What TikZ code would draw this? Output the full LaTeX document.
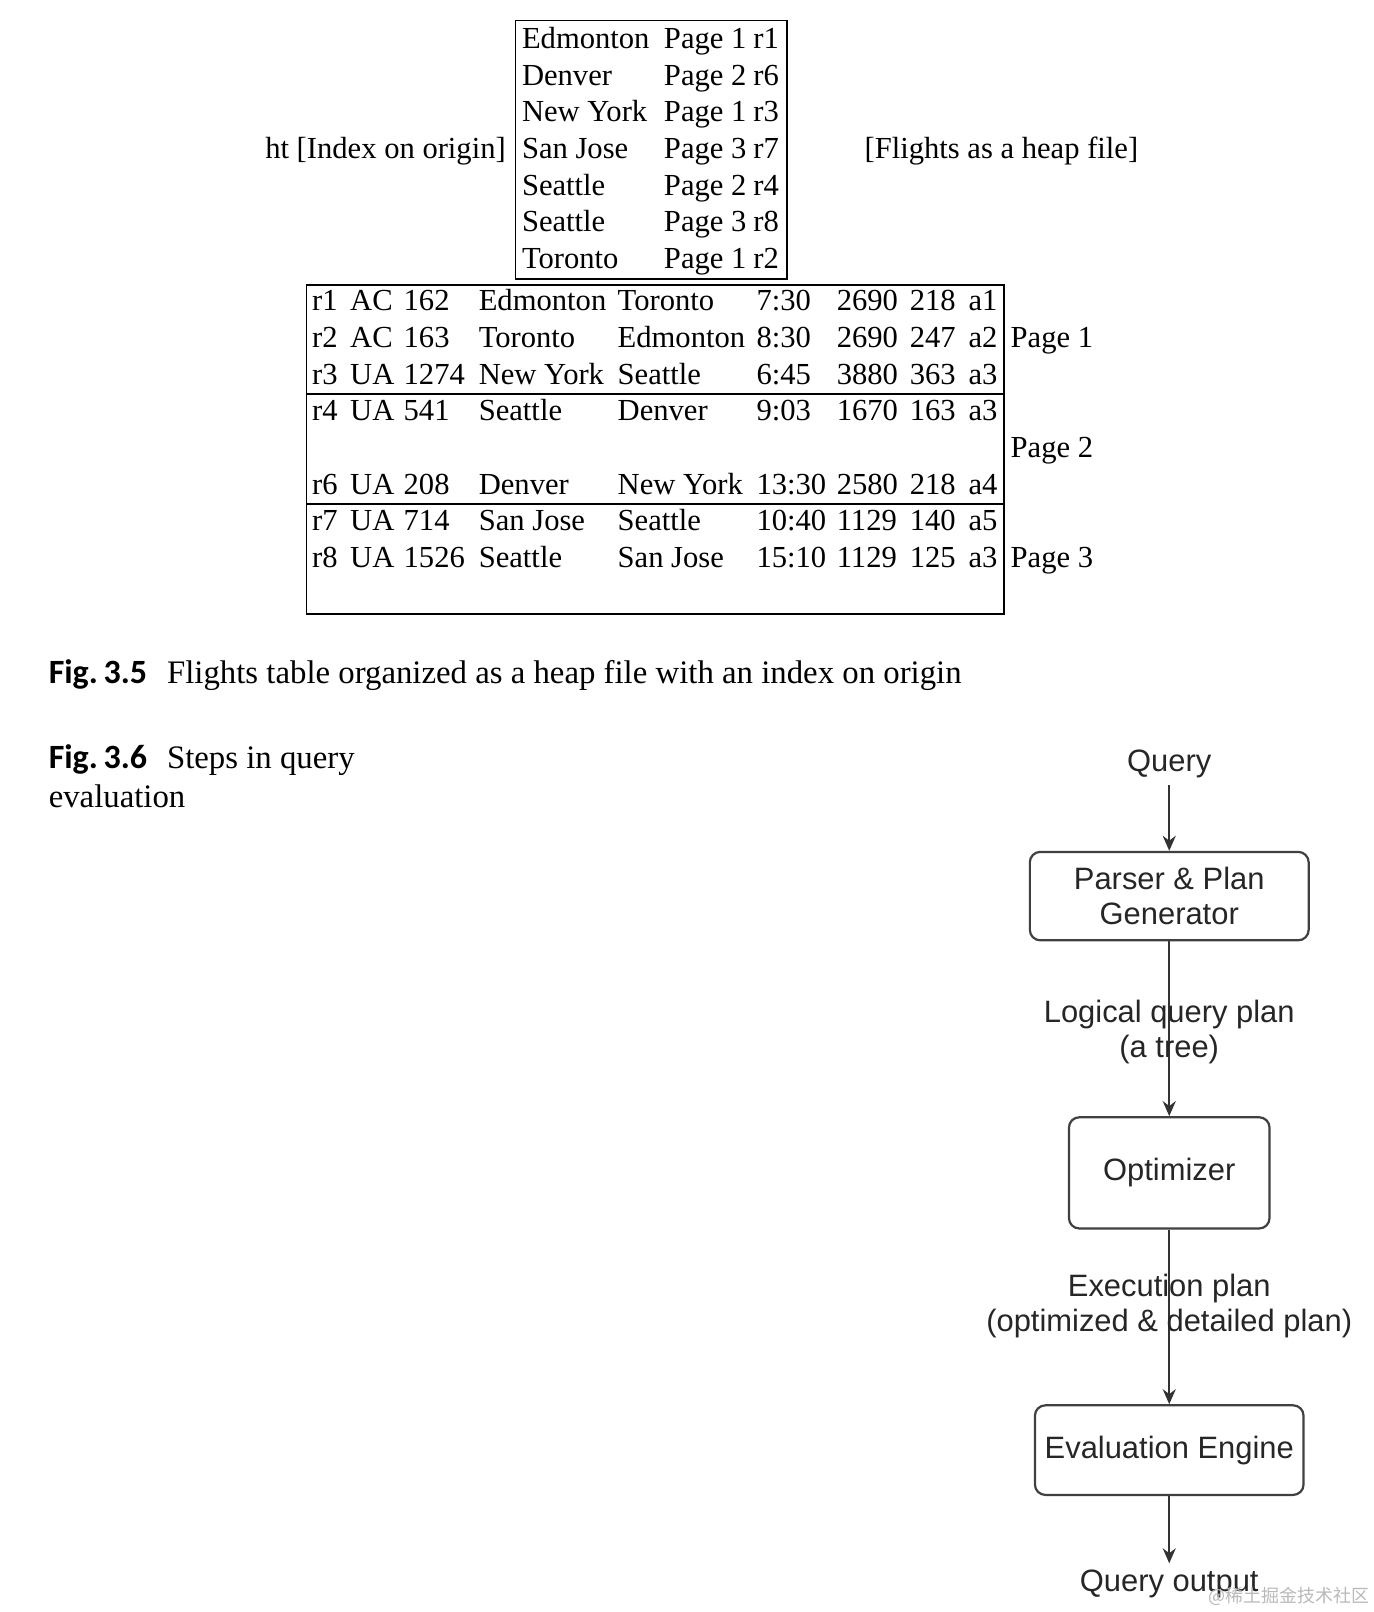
\documentclass[tikz,border=0pt]{standalone}
\usepackage{fontspec}
\setmainfont{Liberation Serif}
\newfontfamily\flowfont{Liberation Sans}
\newfontfamily\figfont{Carlito}
\newfontfamily\cjkfont{Noto Sans CJK SC}
\usetikzlibrary{arrows.meta}
\usetikzlibrary{positioning}

\begin{document}
\begin{tikzpicture}[
	x = 0.5144pt, y = -0.5144pt,
	cell/.style = {
	  inner sep = 0pt, anchor = base west,
	  font = \fontsize{15.3}{18}\selectfont,
	},
	caption/.style = {
	  inner sep = 0pt, anchor = base west,
	  font = \fontsize{16.4}{19}\selectfont,
	},
	figlabel/.style = {
	  caption, font = \figfont\bfseries\fontsize{17}{19}\selectfont,
	},
	flowtext/.style = {
	  align = center, text = black!85,
	  font = \flowfont\fontsize{15.45}{17.5}\selectfont,
	},
	stepbox/.style = {
	  flowtext, draw = black!75, line width = 1.1pt,
	  rounded corners = 5.2pt,
	},
	flow/.style = {
	  draw = black!80, line width = 1.1pt,
	  -{Stealth[length = 7.5pt, width = 6.5pt]},
	},
	rule/.style = {black, line width = 0.75pt},
  ]

  \useasboundingbox (0pt,0pt) rectangle (687pt,-806pt);

  % index on origin
  \draw[rule] (501,20) rectangle (765,271);
  \foreach \city/\pg/\rec [count=\i from 0] in {
	  Edmonton/1/r1, Denver/2/r6, New York/1/r3, San Jose/3/r7,
	  Seattle/2/r4, Seattle/3/r8, Toronto/1/r2} {
	\node[cell] (idxc\i) at (507, 47+35.67*\i) {\city};
	\node[cell] (idxp\i) at (645, 47+35.67*\i) {Page \pg};
	\node[cell] (idxr\i) at (732, 47+35.67*\i) {\rec};
  }
  \node[cell, anchor = base east] (idxname) at (492,154) {ht [Index on origin]};
  \node[cell] (heapname) at (840,154) {[Flights as a heap file]};

  % flights as a heap file
  \draw[rule] (298,277) rectangle (976,597);
  \draw[rule] (298,383) -- (976,383);
  \draw[rule] (298,490) -- (976,490);
  \foreach \k/\rid/\air/\fno/\org/\dst/\dep/\dist/\pr/\acft in {
	  0/r1/AC/162/Edmonton/Toronto/7:30/2690/218/a1,
	  1/r2/AC/163/Toronto/Edmonton/8:30/2690/247/a2,
	  2/r3/UA/1274/New York/Seattle/6:45/3880/363/a3,
	  3/r4/UA/541/Seattle/Denver/9:03/1670/163/a3,
	  5/r6/UA/208/Denver/New York/13:30/2580/218/a4,
	  6/r7/UA/714/San Jose/Seattle/10:40/1129/140/a5,
	  7/r8/UA/1526/Seattle/San Jose/15:10/1129/125/a3} {
	\node[cell] (rid\k) at (303, 302+35.67*\k) {\rid};
	\node[cell] (air\k) at (340, 302+35.67*\k) {\air};
	\node[cell] (fno\k) at (392, 302+35.67*\k) {\fno};
	\node[cell] (org\k) at (465, 302+35.67*\k) {\org};
	\node[cell] (dst\k) at (600, 302+35.67*\k) {\dst};
	\node[cell] (dep\k) at (735, 302+35.67*\k) {\dep};
	\node[cell] (dist\k) at (813, 302+35.67*\k) {\dist};
	\node[cell] (pr\k) at (884, 302+35.67*\k) {\pr};
	\node[cell] (acft\k) at (941, 302+35.67*\k) {\acft};
  }
  \foreach \p/\k in {1/1, 2/4, 3/7} {
	\node[cell] (page\p) at (982, 302+35.67*\k) {Page \p};
  }

  % captions
  \node[figlabel] (fig35) at (47,664) {Fig.\,3.5};
  \node[caption] (cap35) at (162,664)
	{Flights table organized as a heap file with an index on origin};
  \node[figlabel] (fig36) at (47,747) {Fig.\,3.6};
  \node[caption] (cap36) at (162,747) {Steps in query};
  \node[caption] (cap36b) at (47,785) {evaluation};

  % query evaluation steps
  \node[flowtext] (query) at (1136.5,743) {Query};
  \node[stepbox, minimum width = 139.4pt, minimum height = 44.2pt]
	(parser) at (1136.5,871) {Parser \& Plan\\Generator};
  \node[stepbox, minimum width = 100.3pt, minimum height = 55.6pt]
	(optim) at (1136.5,1140) {Optimizer};
  \node[stepbox, minimum width = 134.3pt, minimum height = 44.8pt]
	(engine) at (1136.5,1409.5) {Evaluation Engine};
  \node[flowtext] (output) at (1136.5,1540) {Query output};

  \draw[flow] (query) -- (parser);
  \draw[flow] (parser) -- node[flowtext, pos = 0.52] (lqp)
	{Logical query plan\\(a tree)} (optim);
  \draw[flow] (optim) -- node[flowtext, pos = 0.44] (xplan)
	{Execution plan\\(optimized \& detailed plan)} (engine);
  \draw[flow] (engine) -- (output);

  \node[font = \cjkfont\fontsize{9}{10}\selectfont, text = gray!55,
	anchor = base east, inner sep = 0pt] (mark) at (1332,1558)
	{@稀土掘金技术社区};
\end{tikzpicture}
\end{document}
